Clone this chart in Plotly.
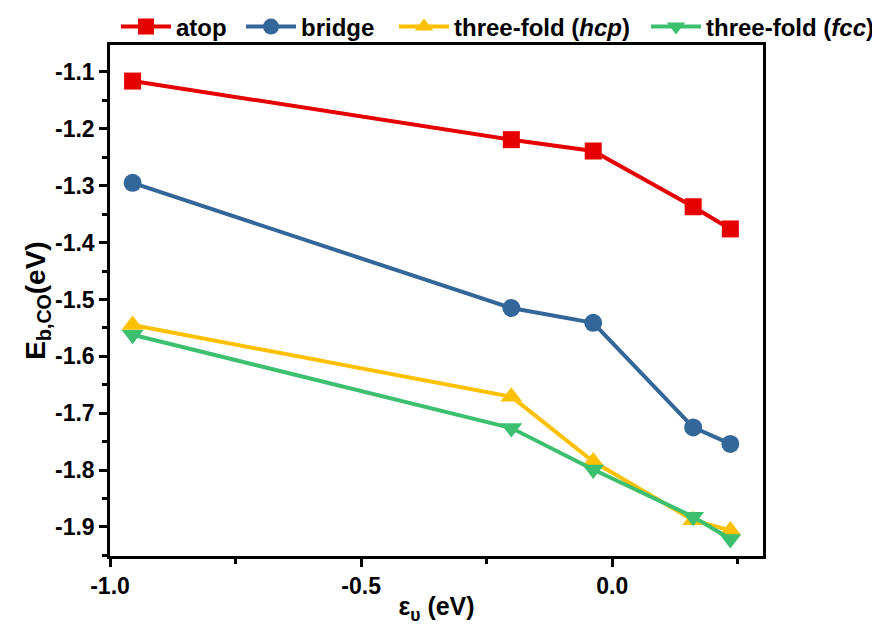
import plotly.graph_objects as go

x_vals = [-0.955, -0.201, -0.038, 0.161, 0.235]
atop = [-1.116, -1.219, -1.239, -1.337, -1.376]
bridge = [-1.295, -1.515, -1.541, -1.725, -1.754]
hcp = [-1.545, -1.671, -1.785, -1.888, -1.906]
fcc = [-1.562, -1.726, -1.799, -1.882, -1.921]

x_ticks = [-1.0, -0.5, 0.0]
x_tick_labels = ["<b>-1.0</b>", "<b>-0.5</b>", "<b>0.0</b>"]
y_ticks = [-1.1, -1.2, -1.3, -1.4, -1.5, -1.6, -1.7, -1.8, -1.9]
y_tick_labels = ["<b>%s</b>" % s for s in
                 ["-1.1", "-1.2", "-1.3", "-1.4", "-1.5", "-1.6", "-1.7", "-1.8", "-1.9"]]

series = [
    ("<b>atop</b>", atop, "#E60000", "square", 17),
    ("<b>bridge</b>", bridge, "#336699", "circle", 18),
    ("<b>three-fold (<i>hcp</i>)</b>", hcp, "#FFC000", "triangle-up", 19),
    ("<b>three-fold (<i>fcc</i>)</b>", fcc, "#3CC070", "triangle-down", 19),
]

FONT = "Arial, Liberation Sans"
W, H = 872, 620
legend_ids = ["legend", "legend2", "legend3", "legend4"]
legend_text_start = [169, 294, 447, 699]
ITEMW = 50

fig = go.Figure()
for (name, ys, col, sym, sz), lid in zip(series, legend_ids):
    fig.add_trace(go.Scatter(
        x=x_vals, y=ys, name=name, mode="lines+markers",
        line=dict(color=col, width=4),
        marker=dict(symbol=sym, size=sz, color=col),
        legend=lid,
    ))

def axis_style():
    return dict(
        showline=True, linecolor="black", linewidth=2.5, mirror=True,
        ticks="outside", ticklen=8, tickwidth=2.5, tickcolor="black",
        showgrid=False, zeroline=False,
        tickfont=dict(family=FONT, size=23, color="black"),
    )

fig.update_xaxes(
    range=[-1.0, 0.30], tickmode="array", tickvals=x_ticks, ticktext=x_tick_labels,
    minor=dict(ticks="outside", ticklen=5, tickwidth=2.5, tickcolor="black", dtick=0.25, tick0=-1.0),
    title=dict(text="<b>ε<sub>υ</sub> (eV)</b>", standoff=0,
               font=dict(family=FONT, size=25, color="black")),
    **axis_style(),
)
fig.update_yaxes(
    range=[-1.951, -1.0526], tickmode="array", tickvals=y_ticks, ticktext=y_tick_labels,
    minor=dict(ticks="outside", ticklen=5, tickwidth=2.5, tickcolor="black", dtick=0.05, tick0=-1.1),
    title=dict(text="<b>E<sub>b,CO</sub>(eV)</b>", standoff=2,
               font=dict(family=FONT, size=28, color="black")),
    **axis_style(),
)

legend_layouts = {}
for lid, ts in zip(legend_ids, legend_text_start):
    legend_layouts[lid] = dict(
        orientation="h", xref="container", x=(ts - (ITEMW + 11)) / W, xanchor="left",
        yref="container", y=1 - 19 / H, yanchor="middle",
        font=dict(family=FONT, size=24, color="black"),
        itemwidth=ITEMW, bgcolor="rgba(0,0,0,0)",
    )

fig.update_layout(
    width=W, height=H,
    margin=dict(l=102, r=117, t=37, b=72, autoexpand=False),
    plot_bgcolor="white", paper_bgcolor="white",
    showlegend=True,
    **legend_layouts,
)

fig.write_html("out.html")
